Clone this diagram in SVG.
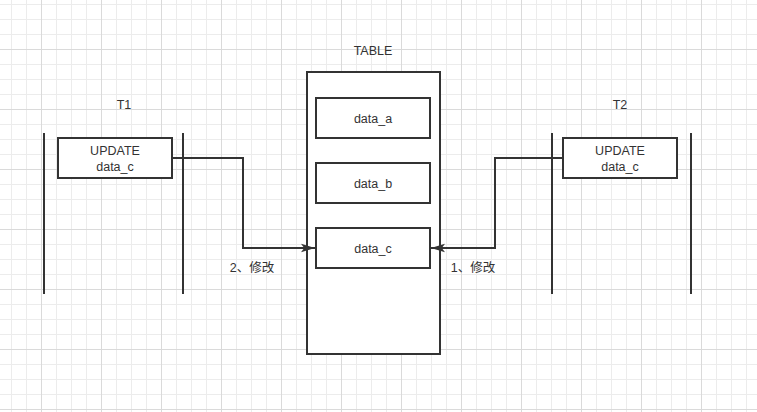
<svg xmlns="http://www.w3.org/2000/svg" width="757" height="412" viewBox="0 0 757 412">
  <defs>
    <pattern id="gridMinor" x="11" y="4" width="15" height="15" patternUnits="userSpaceOnUse">
      <rect x="0" y="0" width="15" height="1" fill="#ececec"/>
      <rect x="0" y="0" width="1" height="15" fill="#ececec"/>
    </pattern>
    <pattern id="gridMajor" x="41" y="49" width="60" height="60" patternUnits="userSpaceOnUse">
      <rect x="0" y="0" width="60" height="1" fill="#dadada"/>
      <rect x="0" y="0" width="1" height="60" fill="#dadada"/>
    </pattern>
    <marker id="arrow" markerUnits="userSpaceOnUse" markerWidth="14" markerHeight="10" viewBox="0 0 13 8" refX="13" refY="4" orient="auto">
      <path d="M13 4 L0 0 L3 4 L0 8 Z" fill="#333333"/>
    </marker>
    <style>
      .box { fill: #ffffff; stroke: #333333; stroke-width: 2; }
      .life { stroke: #333333; stroke-width: 2; fill: none; }
      .edge { stroke: #333333; stroke-width: 2; fill: none; marker-end: url(#arrow); }
      text { font-family: "Liberation Sans", "Noto Sans CJK SC", sans-serif; font-size: 12.5px; fill: #333333; text-anchor: middle; }
    </style>
  </defs>

  <rect x="0" y="0" width="757" height="412" fill="#ffffff"/>
  <rect x="0" y="0" width="757" height="412" fill="url(#gridMinor)"/>
  <rect x="0" y="0" width="757" height="412" fill="url(#gridMajor)"/>

  <g id="T1">
    <text x="124" y="109">T1</text>
    <line class="life" x1="44" y1="133" x2="44" y2="294"/>
    <line class="life" x1="183" y1="133" x2="183" y2="294"/>
  </g>

  <g id="T2">
    <text x="620" y="109">T2</text>
    <line class="life" x1="552" y1="133" x2="552" y2="294"/>
    <line class="life" x1="691" y1="133" x2="691" y2="294"/>
  </g>

  <g id="TABLE">
    <text x="373" y="55">TABLE</text>
    <rect class="box" x="307" y="72" width="133" height="282"/>
  </g>

  <g id="data_a">
    <rect class="box" x="316" y="98" width="114" height="40"/>
    <text x="373" y="123">data_a</text>
  </g>

  <g id="data_b">
    <rect class="box" x="316" y="163" width="114" height="40"/>
    <text x="373" y="188">data_b</text>
  </g>

  <g id="data_c">
    <rect class="box" x="316" y="228" width="114" height="40"/>
    <text x="373" y="253">data_c</text>
  </g>

  <g id="update_t1">
    <rect class="box" x="58" y="138" width="114" height="40"/>
    <text x="115" y="155">UPDATE</text>
    <text x="115" y="171">data_c</text>
  </g>

  <g id="update_t2">
    <rect class="box" x="563" y="138" width="114" height="40"/>
    <text x="620" y="155">UPDATE</text>
    <text x="620" y="171">data_c</text>
  </g>

  <g id="connectors">
    <path class="edge" d="M172 158 H243 V248 H315"/>
    <path class="edge" d="M563 158 H495 V248 H431"/>
    <text x="252" y="272">2、修改</text>
    <text x="473" y="272">1、修改</text>
  </g>
</svg>
